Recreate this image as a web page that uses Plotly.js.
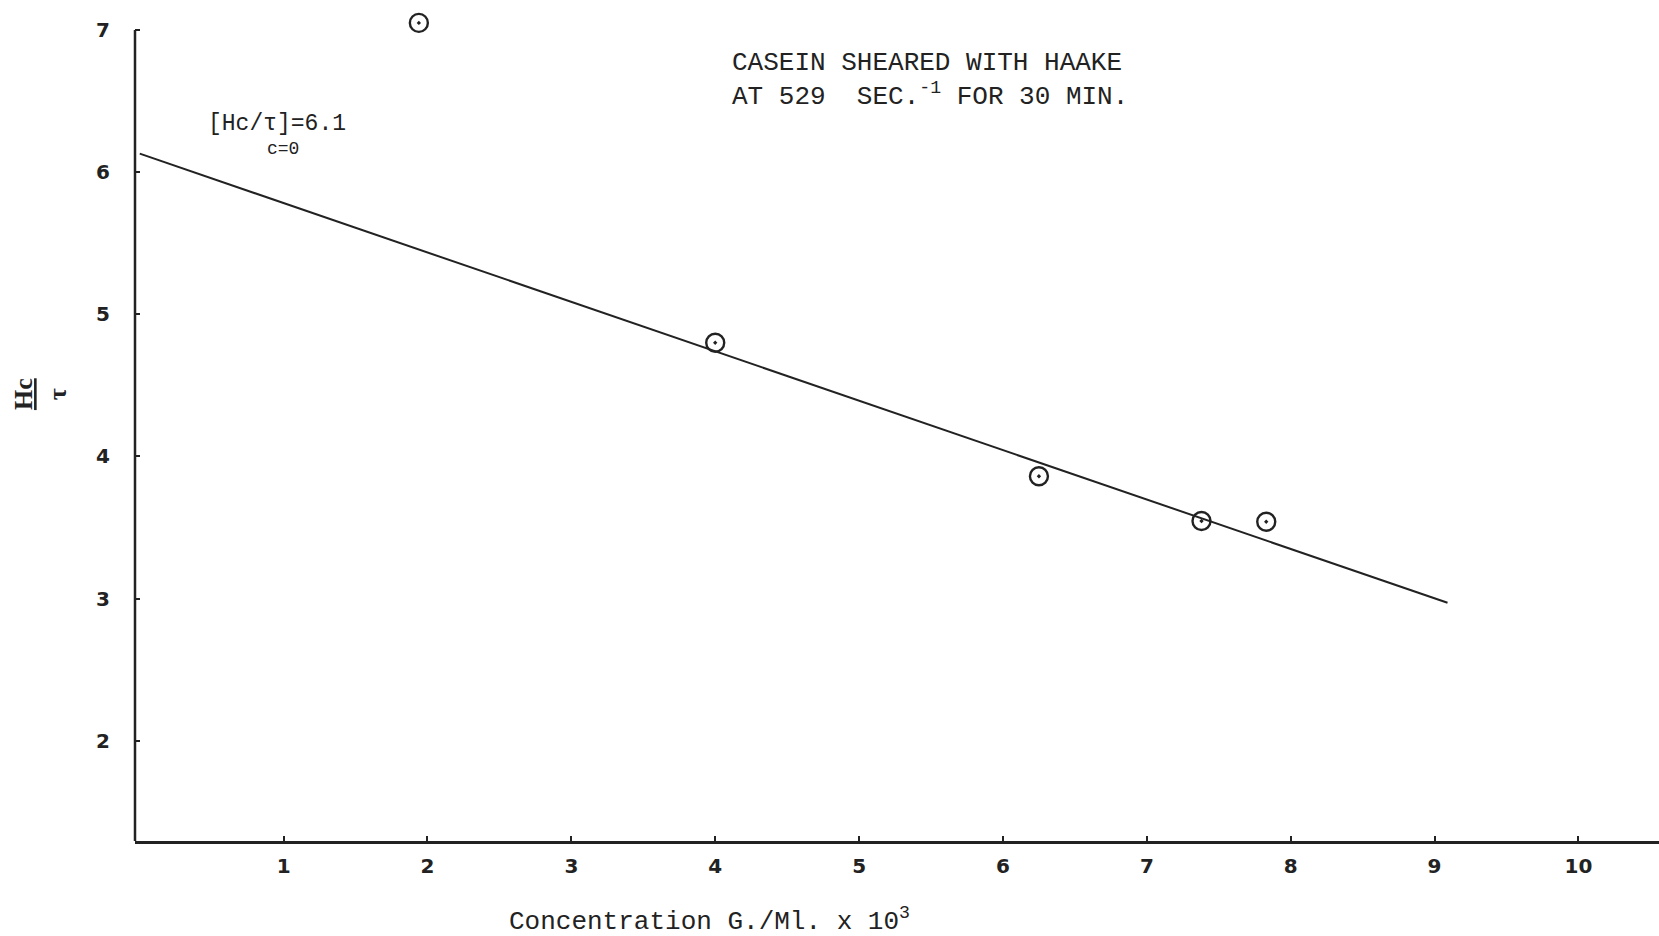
<!DOCTYPE html>
<html>
<head>
<meta charset="utf-8">
<script src="https://cdn.plot.ly/plotly-3.0.1.min.js"></script>
<style>html,body{margin:0;padding:0;background:#fff;}#chart{width:1659px;height:936px;}</style>
</head>
<body>
<div id="chart"></div>
<script>
// Measured data points (concentration g/ml x 10^3 vs Hc/tau)
const concentration = [1.94, 4.0, 6.25, 7.38, 7.83];
const hcOverTau = [7.05, 4.80, 3.86, 3.545, 3.54];
// Hand-drawn fitted line endpoints
const fitX = [0, 9.09];
const fitY = [6.13, 2.97];
// Tick labels
const xTicks = [1, 2, 3, 4, 5, 6, 7, 8, 9, 10];
const yTicks = [2, 3, 4, 5, 6, 7];

const ink = '#222';
const traces = [
  {x: fitX, y: fitY, mode: 'lines', line: {color: ink, width: 2}, hoverinfo: 'skip'},
  {x: concentration, y: hcOverTau, mode: 'markers',
   marker: {symbol: 'circle-open-dot', size: 18, color: ink, line: {color: ink, width: 2.4}}}
];
const tickFont = {family: 'DejaVu Sans', size: 20, color: ink, weight: 'bold'};
const layout = {
  width: 1659, height: 936,
  margin: {l: 135, r: 0, t: 0, b: 95},
  paper_bgcolor: '#fff', plot_bgcolor: '#fff',
  showlegend: false,
  xaxis: {range: [-0.033, 10.56], tickvals: xTicks, ticktext: xTicks.map(String),
    ticks: 'inside', ticklen: 5, tickwidth: 2, tickcolor: ink,
    showline: true, linecolor: ink, linewidth: 2.5, showgrid: false, zeroline: false,
    tickfont: tickFont, ticklabelstandoff: 5},
  yaxis: {range: [1.294, 7.211], tickvals: yTicks, ticktext: yTicks.map(String),
    ticks: 'inside', ticklen: 5, tickwidth: 2, tickcolor: ink,
    showline: false, showgrid: false, zeroline: false,
    tickfont: tickFont, ticklabelstandoff: 24},
  shapes: [
    {type: 'line', xref: 'paper', yref: 'y', x0: 0, x1: 0, y0: 1.294, y1: 7.0,
     line: {color: ink, width: 2.5}}
  ],
  annotations: [
    {xref: 'x', yref: 'y', x: 4.10, y: 6.648, xanchor: 'left', yanchor: 'middle', showarrow: false, align: 'left',
     text: 'CASEIN SHEARED WITH HAAKE<br>AT 529  SEC.<sup>-1</sup> FOR 30 MIN.',
     font: {family: 'Liberation Mono', size: 26, color: ink}},
    {xref: 'x', yref: 'y', x: 0.46, y: 6.338, xanchor: 'left', yanchor: 'middle', showarrow: false,
     text: '[Hc/τ]=6.1', font: {family: 'Liberation Mono', size: 23, color: ink}},
    {xref: 'x', yref: 'y', x: 0.87, y: 6.16, xanchor: 'left', yanchor: 'middle', showarrow: false,
     text: 'c=0', font: {family: 'Liberation Mono', size: 18, color: ink}},
    {xref: 'paper', yref: 'paper', x: -0.0623, y: 0.5315, xanchor: 'center', yanchor: 'middle', showarrow: false,
     textangle: -90, text: '<u><b>Hc</b></u><br><b>τ</b>', font: {family: 'Liberation Serif', size: 26, color: ink}},
    {xref: 'paper', yref: 'paper', x: 0.377, y: -0.094, xanchor: 'center', yanchor: 'middle', showarrow: false,
     text: 'Concentration G./Ml. x 10<sup>3</sup>', font: {family: 'Liberation Mono', size: 26, color: ink}}
  ]
};
Plotly.newPlot('chart', traces, layout, {displayModeBar: false, staticPlot: true});
</script>
</body>
</html>
